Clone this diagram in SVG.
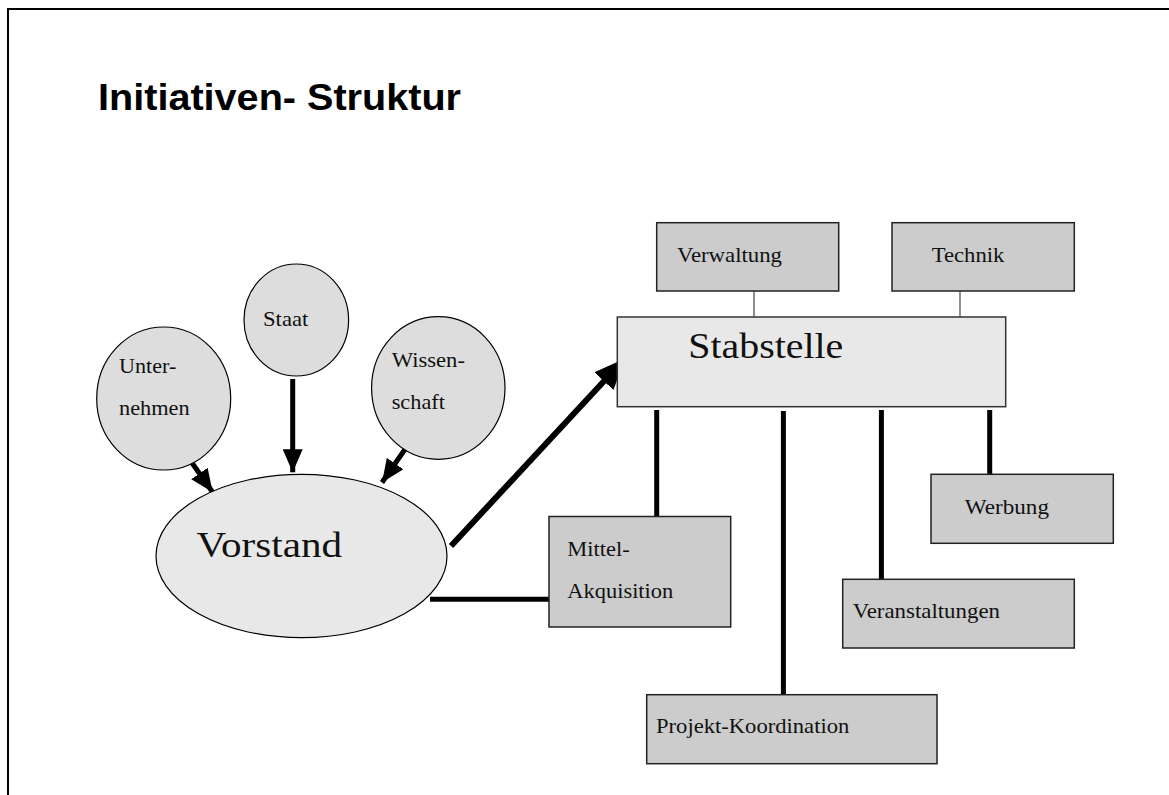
<svg xmlns="http://www.w3.org/2000/svg" width="1169" height="795" viewBox="0 0 1169 795">
  <defs>
    <style>
      .frame { fill: none; stroke: #000; stroke-width: 2; }
      .title { font-family: "Liberation Sans", Arial, sans-serif; font-weight: bold; font-size: 36px; fill: #000; }
      .lbl { font-family: "Liberation Serif", "Times New Roman", serif; font-size: 21px; fill: #111; }
      .big { font-family: "Liberation Serif", "Times New Roman", serif; font-size: 36px; fill: #111; }
      .circle { fill: #dddddd; stroke: #000; stroke-width: 1.2; }
      .oval { fill: #e8e8e8; stroke: #000; stroke-width: 1.2; }
      .staff { fill: #e8e8e8; stroke: #333; stroke-width: 1.5; }
      .unit { fill: #cccccc; stroke: #222; stroke-width: 1.5; }
      .thin { stroke: #444; stroke-width: 1.2; fill: none; }
      .thick { stroke: #000; stroke-width: 5; fill: none; }
      .arrow { stroke: #000; stroke-width: 5; fill: none; }
      .arrow-big { stroke: #000; stroke-width: 6; fill: none; }
    </style>
    <marker id="head" viewBox="0 0 23 20" refX="23" refY="10" markerWidth="23" markerHeight="20" markerUnits="userSpaceOnUse" orient="auto">
      <path d="M0,0 L23,10 L0,20 Z" fill="#000"/>
    </marker>
    <marker id="head-big" viewBox="0 0 31 26" refX="31" refY="13" markerWidth="31" markerHeight="26" markerUnits="userSpaceOnUse" orient="auto">
      <path d="M0,0 L31,13 L0,26 Z" fill="#000"/>
    </marker>
  </defs>

  <!-- page frame -->
  <path class="frame" d="M8,795 L8,9 L1169,9"/>

  <text id="title" class="title" x="98" y="109.5" textLength="363" lengthAdjust="spacingAndGlyphs">Initiativen- Struktur</text>

  <!-- connectors -->
  <g id="connectors">
    <line class="arrow" x1="185" y1="453" x2="212.7" y2="492.3" marker-end="url(#head)"/>
    <line class="arrow" x1="292.7" y1="379" x2="292.7" y2="472.3" marker-end="url(#head)"/>
    <line class="arrow" x1="410" y1="442" x2="382" y2="482.5" marker-end="url(#head)"/>
    <line class="arrow-big" x1="451" y1="546" x2="625" y2="358.5" marker-end="url(#head-big)"/>
    <line class="thick" x1="430" y1="599.3" x2="549" y2="599.3"/>
    <line class="thin" x1="754" y1="291" x2="754" y2="317"/>
    <line class="thin" x1="960" y1="291" x2="960" y2="317"/>
    <line class="thick" x1="656.7" y1="410" x2="656.7" y2="516.5"/>
    <line class="thick" x1="783.4" y1="411" x2="783.4" y2="694.7"/>
    <line class="thick" x1="881.4" y1="410" x2="881.4" y2="579.3"/>
    <line class="thick" x1="989.7" y1="410" x2="989.7" y2="474.3"/>
  </g>

  <g id="unternehmen">
    <ellipse class="circle" cx="163.7" cy="398.5" rx="67" ry="71.5"/>
    <text class="lbl" x="119" y="372.7" textLength="57.3" lengthAdjust="spacingAndGlyphs">Unter-</text>
    <text class="lbl" x="119" y="415" textLength="70.7" lengthAdjust="spacingAndGlyphs">nehmen</text>
  </g>

  <g id="staat">
    <ellipse class="circle" cx="296.3" cy="320" rx="52.3" ry="56"/>
    <text class="lbl" x="263" y="325.7" textLength="45.3" lengthAdjust="spacingAndGlyphs">Staat</text>
  </g>

  <g id="wissenschaft">
    <ellipse class="circle" cx="438.3" cy="388" rx="66.7" ry="71.3"/>
    <text class="lbl" x="391.7" y="366.7" textLength="73.3" lengthAdjust="spacingAndGlyphs">Wissen-</text>
    <text class="lbl" x="391.7" y="409" textLength="53.3" lengthAdjust="spacingAndGlyphs">schaft</text>
  </g>

  <g id="vorstand">
    <ellipse class="oval" cx="301.5" cy="556" rx="145.5" ry="81.7"/>
    <text class="big" x="196.6" y="556.7" textLength="145.4" lengthAdjust="spacingAndGlyphs">Vorstand</text>
  </g>

  <g id="stabstelle">
    <rect class="staff" x="617.3" y="317" width="388.4" height="89.7"/>
    <text class="big" x="688.3" y="357.7" textLength="155" lengthAdjust="spacingAndGlyphs">Stabstelle</text>
  </g>

  <g id="verwaltung">
    <rect class="unit" x="656.7" y="222.7" width="182" height="68.3"/>
    <text class="lbl" x="677" y="262" textLength="105" lengthAdjust="spacingAndGlyphs">Verwaltung</text>
  </g>

  <g id="technik">
    <rect class="unit" x="892" y="222.7" width="182.3" height="68.3"/>
    <text class="lbl" x="931.7" y="262.3" textLength="72.7" lengthAdjust="spacingAndGlyphs">Technik</text>
  </g>

  <g id="mittel-akquisition">
    <rect class="unit" x="549" y="516.5" width="181.7" height="110.5"/>
    <text class="lbl" x="567.3" y="555.5" textLength="62.4" lengthAdjust="spacingAndGlyphs">Mittel-</text>
    <text class="lbl" x="567.3" y="597.5" textLength="106" lengthAdjust="spacingAndGlyphs">Akquisition</text>
  </g>

  <g id="werbung">
    <rect class="unit" x="931" y="474.3" width="182.3" height="69"/>
    <text class="lbl" x="964.8" y="514" textLength="84.2" lengthAdjust="spacingAndGlyphs">Werbung</text>
  </g>

  <g id="veranstaltungen">
    <rect class="unit" x="842.7" y="579.3" width="231.6" height="68.7"/>
    <text class="lbl" x="852.7" y="618.3" textLength="147.3" lengthAdjust="spacingAndGlyphs">Veranstaltungen</text>
  </g>

  <g id="projekt-koordination">
    <rect class="unit" x="646.7" y="694.7" width="290.3" height="69"/>
    <text class="lbl" x="656" y="733.3" textLength="193.3" lengthAdjust="spacingAndGlyphs">Projekt-Koordination</text>
  </g>
</svg>
